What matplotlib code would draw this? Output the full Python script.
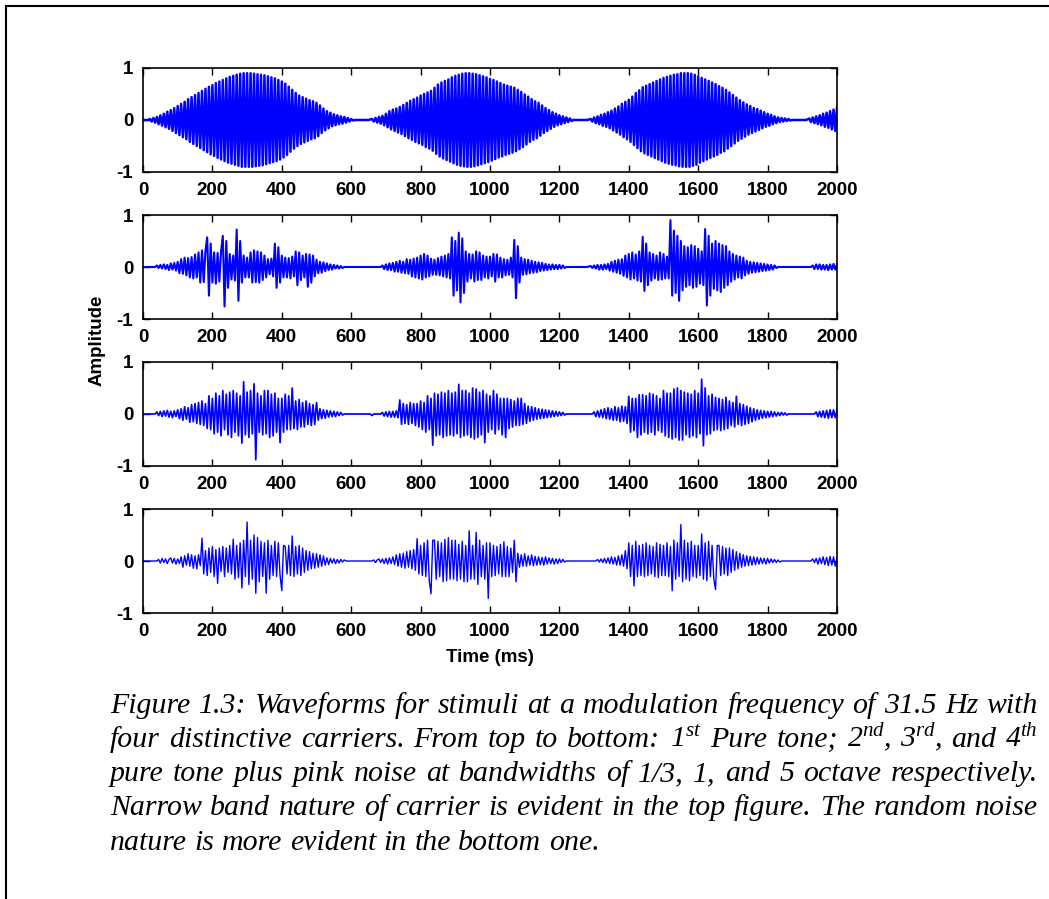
import numpy as np
import matplotlib
matplotlib.use("Agg")
import matplotlib.pyplot as plt
from matplotlib.lines import Line2D

plt.rcParams["axes.unicode_minus"] = False
plt.rcParams["mathtext.fontset"] = "custom"
plt.rcParams["mathtext.rm"] = "Liberation Serif:italic"
plt.rcParams["mathtext.it"] = "Liberation Serif:italic"
plt.rcParams["mathtext.default"] = "it"

# ---------------- data (amplitude x100, sampled every 5 ms, 0..2000 ms) ----------------
sample_times_ms = np.arange(0, 2001, 5)

pure_tone = [
    0, 0, 0, 0, 2, -3, 4, -5, 6, -8, 9, -11, 12, -14, 16, -17, 19, -21, 23, -25,
    27, -29, 31, -33, 35, -37, 40, -42, 44, -46, 48, -50, 52, -54, 56, -58, 60, -62, 64, -66,
    67, -69, 71, -73, 74, -76, 77, -79, 80, -82, 83, -84, 85, -86, 87, -88, 89, -90, 90, -90,
    90, -90, 90, -90, 89, -89, 88, -88, 87, -87, 86, -85, 84, -83, 82, -81, 80, -79, 77, -76,
    74, -72, 70, -67, 64, -61, 58, -55, 52, -50, 47, -46, 44, -43, 41, -40, 38, -37, 36, -35,
    33, -31, 28, -25, 22, -20, 17, -16, 14, -12, 11, -10, 9, -8, 7, -7, 6, -5, 4, -3,
    2, -1, 0, 0, 0, 0, 0, 0, 0, 0, 0, 1, 2, -3, 4, -5, 6, -7, 8, -10,
    12, -14, 17, -18, 20, -21, 22, -24, 25, -27, 29, -31, 33, -35, 37, -38, 40, -42, 43, -45,
    47, -48, 50, -52, 53, -55, 56, -59, 62, -65, 68, -70, 72, -74, 75, -77, 78, -80, 82, -83,
    85, -86, 87, -88, 89, -89, 90, -90, 90, -90, 89, -89, 88, -87, 86, -85, 84, -83, 82, -81,
    79, -78, 77, -75, 74, -72, 71, -70, 68, -67, 66, -65, 64, -63, 62, -60, 58, -56, 54, -52,
    49, -47, 45, -42, 40, -38, 36, -35, 33, -30, 28, -25, 23, -21, 19, -17, 15, -13, 12, -10,
    9, -8, 7, -6, 5, -4, 3, -2, 0, 0, 0, 0, 0, 0, 0, 0, 0, 1, 2, -3,
    5, -6, 7, -8, 10, -11, 12, -13, 15, -16, 18, -20, 22, -24, 26, -28, 31, -33, 35, -37,
    39, -42, 45, -48, 52, -54, 57, -60, 63, -64, 66, -67, 69, -70, 72, -73, 75, -76, 78, -79,
    81, -82, 83, -84, 85, -86, 87, -87, 88, -89, 90, -90, 90, -90, 90, -90, 89, -88, 87, -86,
    84, -82, 81, -79, 78, -76, 75, -73, 72, -70, 69, -67, 65, -63, 62, -60, 58, -55, 53, -50,
    48, -45, 43, -40, 38, -36, 34, -32, 30, -28, 27, -25, 23, -22, 21, -19, 18, -16, 15, -13,
    12, -11, 10, -8, 7, -6, 5, -4, 4, -3, 3, -2, 2, -1, 0, 0, 0, 0, 0, 0,
    0, 0, 0, 1, 3, -4, 5, -6, 7, -8, 9, -10, 12, -13, 14, -15, 17, -18, 20, -21,
    23,
]

noise_third_octave = [
    0, 0, 0, 0, 0, 0, 0, 0, 3, -2, 4, -3, 5, -4, 4, -6, 7, -5, 8, -7,
    10, -12, 15, -13, 18, -16, 17, -20, 19, -22, 24, -20, 28, -30, 32, -29, 31, 57, -55, 45,
    -30, 28, -32, 27, -28, 30, 60, -76, 50, -40, 25, -24, 22, -26, 72, -65, 50, -30, 22, -20,
    18, -20, 28, -30, 32, -29, 30, -30, 28, -25, 22, -20, 15, -14, 16, -18, 45, -40, 38, -30,
    22, -20, 18, -20, 17, -22, 20, -18, 30, -35, 28, -25, 22, -20, 25, -38, 24, -30, 22, -18,
    14, -12, 10, -11, 9, -8, 7, -6, 5, -5, 4, -3, 3, -3, 2, -2, 0, 0, 0, 0,
    0, 0, 0, 0, 0, 0, 0, 0, 0, 0, 0, 0, 0, 0, 0, 0, 0, 0, 3, -4,
    5, -6, 7, -6, 8, -9, 10, -9, 12, -11, 10, -12, 15, -13, 14, -18, 16, -20, 18, -22,
    22, -24, 25, -20, 22, -18, 16, -15, 14, -15, 17, -16, 20, -18, 22, -20, 25, -22, 57, -55,
    50, -45, 66, -68, 55, -50, 30, -28, 25, -22, 24, -28, 30, -25, 28, -25, 22, -20, 20, -22,
    20, -18, 25, -28, 24, -20, 18, -20, 15, -16, 14, -15, 18, -20, 52, -60, 40, -30, 18, -15,
    15, -14, 14, -12, 12, -11, 10, -10, 9, -8, 8, -7, 6, -6, 5, -5, 5, -4, 4, -4,
    4, -3, 3, -2, 0, 0, 0, 0, 0, 0, 0, 0, 0, 0, 0, 0, 0, 1, 2, -2,
    3, -3, 4, -5, 4, -5, 5, -4, 6, -7, 10, -9, 12, -11, 14, -13, 15, -17, 22, -20,
    25, -24, 28, -22, 24, -26, 30, -28, 58, -46, 45, -35, 28, -26, 25, -22, 22, -25, 28, -24,
    25, -22, 20, -22, 90, -55, 70, -50, 60, -65, 50, -45, 40, -38, 38, -35, 42, -40, 40, -38,
    35, -32, 30, -35, 73, -74, 60, -55, 45, -42, 50, -45, 45, -48, 42, -40, 40, -35, 30, -28,
    25, -24, 22, -20, 20, -22, 18, -16, 12, -13, 10, -11, 9, -10, 8, -9, 7, -8, 6, -7,
    5, -6, 4, -5, 3, -2, 0, 0, 0, 0, 0, 0, 0, 0, 0, 0, 0, 0, 0, 0,
    0, 0, 0, 0, 0, 0, 3, -4, 5, -4, 5, -5, 4, -5, 4, -6, 5, -5, 6, -5,
    5,
]

noise_one_octave = [
    0, 0, 0, 0, 0, 0, 0, 0, 4, -3, 5, -5, 6, -4, 7, -6, 5, -7, 6, -5,
    8, -9, 10, -12, 14, -10, 12, -16, 18, -15, 20, -18, 22, -20, 25, -22, 20, -28, 35, -30,
    30, -38, 40, -35, 35, -42, 45, -30, 38, -40, 42, -45, 45, -35, 40, -42, 35, -56, 62, -40,
    42, -45, 45, -38, 58, -88, 40, -35, 35, -40, 45, -38, 45, -45, 38, -42, 40, -35, 30, -55,
    30, -35, 38, -30, 35, -30, 50, -28, 25, -30, 28, -25, 22, -25, 25, -20, 20, -22, 18, -20,
    22, -12, 10, -9, 8, -8, 7, -6, 6, -5, 5, -5, 4, -3, 3, -2, 0, 0, 0, 0,
    0, 0, 0, 0, 0, 0, 0, 0, 0, 0, 0, 0, -3, 0, 0, 0, 0, 0, 3, -4,
    4, -5, 5, -6, 5, -6, 6, -7, 27, -20, 20, -18, 18, -20, 22, -18, 20, -22, 20, -25,
    25, -30, 22, -35, 35, -30, 30, -60, 40, -42, 38, -40, 42, -45, 40, -42, 45, -40, 40, -42,
    42, -38, 57, -45, 45, -42, 45, -40, 40, -45, 50, -48, 48, -45, 42, -40, 45, -55, 38, -35,
    35, -30, 45, -38, 38, -30, 30, -40, 30, -45, 30, -28, 28, -25, 25, -22, 30, -22, 30, -20,
    20, -18, 15, -14, 14, -12, 12, -10, 10, -9, 9, -8, 8, -7, 7, -6, 6, -5, 5, -4,
    4, -3, 3, -2, 0, 0, 0, 0, 0, 0, 0, 0, 0, 0, 0, 0, 0, 0, 0, 0,
    4, -5, 6, -6, 8, -7, 10, -9, 12, -10, 10, -12, 14, -12, 12, -15, 15, -14, 14, -18,
    34, -35, 30, -32, 30, -45, 37, -40, 37, -35, 35, -38, 40, -35, 38, -40, 35, -32, 30, -35,
    45, -42, 40, -45, 40, -48, 48, -45, 50, -50, 45, -50, 42, -40, 40, -45, 38, -42, 45, -45,
    40, -38, 67, -61, 50, -40, 35, -38, 38, -32, 32, -30, 30, -32, 28, -30, 32, -28, 25, -22,
    22, -25, 34, -20, 20, -22, 18, -20, 15, -18, 12, -15, 10, -12, 8, -10, 7, -8, 6, -7,
    5, -6, 5, -5, 4, -4, 3, -3, 3, -2, 2, -2, 0, 0, 0, 0, 0, 0, 0, 0,
    0, 0, 0, 0, 0, 0, 0, 0, 4, -5, 5, -6, 6, -7, 7, -8, 8, -7, 8, -7,
    7,
]

noise_five_octave = [
    0, 0, 0, 0, 0, 0, 0, 0, 0, 3, -4, 5, -3, 4, -5, 3, 6, -4, 5, -6,
    4, -5, 8, -12, 10, -8, 14, -10, 12, -14, 10, -15, 12, -9, 44, -25, 20, -28, 25, -22,
    28, -30, 22, -43, 25, -20, 28, -30, 25, -22, 30, -25, 42, -35, 30, -32, 35, -52, 40, -30,
    75, -45, 40, -35, 50, -62, 45, -40, 38, -30, 35, -62, 40, -35, 30, -28, 38, -30, 35, -28,
    -57, 30, 28, -25, 30, -28, 48, -30, 28, -25, 30, -28, 25, -22, 20, -18, 18, -15, 15, -14,
    14, -12, 12, -10, 10, -8, 6, -7, 5, -4, 4, -5, 3, -4, 3, -2, 2, 0, 0, 0,
    0, 0, 0, 0, 0, 0, 0, 0, 0, 0, 0, 0, 0, 2, -3, 2, 4, -3, 4, -5,
    5, -6, 6, -5, 8, -7, 12, -10, 14, -12, 15, -14, 18, -12, 20, -15, 22, -18, 43, -25,
    30, -28, 35, -30, 40, -38, -63, 40, 40, -35, 38, -30, 35, -40, 42, -38, 45, -35, 40, -35,
    40, -38, 32, -35, 38, -40, 30, -40, 58, -35, 30, -35, 55, -45, 40, -30, 30, -35, 35, -72,
    35, -30, 30, -28, 28, -25, 32, -30, 37, -30, 28, -30, 25, -22, 40, -40, 15, -12, 12, -10,
    14, -10, 10, -8, 12, -9, 9, -8, 8, -7, 7, -8, 8, -6, 6, -5, 5, -6, 4, -5,
    4, -3, 3, -2, 0, 0, 0, 0, 0, 0, 0, 0, 0, 0, 0, 0, 0, 0, 0, 0,
    0, 0, 3, -2, 4, -3, 5, -4, 6, -5, 8, -6, 7, -8, 10, -8, 12, -10, 20, -15,
    35, -30, 30, -48, 38, -30, 30, -28, 32, -30, 35, -28, 30, -25, 28, -30, 35, -32, 32, -28,
    30, -28, 35, -30, 28, -57, 40, -35, 35, -30, 70, -40, 40, -35, 35, -38, 38, -30, 30, -32,
    30, -28, 52, -35, 35, -38, 38, -30, 30, -35, -55, 30, 30, -28, 28, -25, 25, -28, 25, -22,
    22, -18, 18, -15, 15, -12, 12, -10, 10, -9, 9, -8, 8, -7, 7, -6, 6, -5, 5, -6,
    5, -4, 4, -3, 3, -3, 2, -2, 0, 0, 0, 0, 0, 0, 0, 0, 0, 0, 0, 0,
    0, 0, 0, 0, 0, 0, 4, -3, 5, -6, 6, -5, 8, -7, 7, -9, 9, -8, 8, -10,
    7,
]

x_ticks = [0, 200, 400, 600, 800, 1000, 1200, 1400, 1600, 1800, 2000]
x_tick_labels = ["0", "200", "400", "600", "800", "1000", "1200", "1400", "1600", "1800", "2000"]
y_ticks = [-1, 0, 1]
y_tick_labels = ["-1", "0", "1"]

caption_lines = [
    "Figure 1.3: Waveforms for stimuli at a modulation frequency of 31.5 Hz with",
    "four distinctive carriers. From top to bottom: 1$^{st}$ Pure tone; 2$^{nd}$, 3$^{rd}$, and 4$^{th}$",
    "pure tone plus pink noise at bandwidths of 1/3, 1, and 5 octave respectively.",
    "Narrow band nature of carrier is evident in the top figure. The random noise",
    "nature is more evident in the bottom one.",
]

# ---------------- figure ----------------
W, H = 1049, 899
fig = plt.figure(figsize=(W / 100, H / 100), dpi=100)


def px_rect(left, top, right, bottom):
    return [left / W, 1 - bottom / H, (right - left) / W, (bottom - top) / H]


series = [pure_tone, noise_third_octave, noise_one_octave, noise_five_octave]
line_widths = [1.8, 1.5, 1.25, 1.0]
panel_tops = [68, 215, 362, 509]
ax_left, ax_right, ax_h = 143, 837, 104
tick_font = dict(family="Liberation Sans", weight="bold", size=13.5)

for vals, lw, top in zip(series, line_widths, panel_tops):
    n = min(len(vals), len(sample_times_ms))
    ax = fig.add_axes(px_rect(ax_left, top, ax_right, top + ax_h))
    ax.plot(sample_times_ms[:n], np.asarray(vals[:n]) / 100.0, color="#0000ff", lw=lw)
    ax.set_xlim(0, 2000)
    ax.set_ylim(-1, 1)
    ax.set_xticks(x_ticks)
    ax.set_xticklabels(x_tick_labels, fontdict=tick_font)
    ax.set_yticks(y_ticks)
    ax.set_yticklabels(y_tick_labels, fontdict=tick_font)
    ax.tick_params(axis="both", direction="in", top=True, right=True,
                   length=5, width=1.0, color="black")
    ax.tick_params(axis="x", pad=7)
    ax.tick_params(axis="y", pad=7)
    for sp in ax.spines.values():
        sp.set_linewidth(1.2)
        sp.set_color("black")

fig.text(490 / W, 1 - 657 / H, "Time (ms)", ha="center", va="center",
         family="Liberation Sans", weight="bold", size=13.5)
fig.text(97 / W, 1 - 340 / H, "Amplitude", ha="center", va="center", rotation=90,
         family="Liberation Sans", weight="bold", size=13.5)

# ---------------- justified caption ----------------
renderer = fig.canvas.get_renderer()
cap_x0, cap_x1 = 110, 1038
baselines = [713, 747, 781, 815, 850]


def text_width(s, size):
    t = fig.text(0, 0, s, family="Liberation Serif", style="italic", size=size)
    w = t.get_window_extent(renderer).width
    t.remove()
    return w


base_size = 20.0
natural = [text_width(ln, base_size) for ln in caption_lines[:-1]]
cap_size = base_size * 0.99 * (cap_x1 - cap_x0) / max(natural)
space_w = text_width("a a", cap_size) - text_width("aa", cap_size)

for i, (line, base) in enumerate(zip(caption_lines, baselines)):
    words = line.split(" ")
    widths = [text_width(w, cap_size) for w in words]
    if i == len(caption_lines) - 1:
        gap = space_w
    else:
        gap = (cap_x1 - cap_x0 - sum(widths)) / (len(words) - 1)
    x = cap_x0
    for w, wd in zip(words, widths):
        fig.text(x / W, 1 - base / H, w, ha="left", va="baseline",
                 family="Liberation Serif", style="italic", size=cap_size)
        x += wd + gap

# ---------------- page border ----------------
fig.add_artist(Line2D([6 / W, 6 / W], [0, 1 - 6 / H], transform=fig.transFigure,
                      color="black", lw=1.5))
fig.add_artist(Line2D([6 / W, 1], [1 - 6 / H, 1 - 6 / H], transform=fig.transFigure,
                      color="black", lw=1.5))

fig.savefig("out.png", dpi=100)
